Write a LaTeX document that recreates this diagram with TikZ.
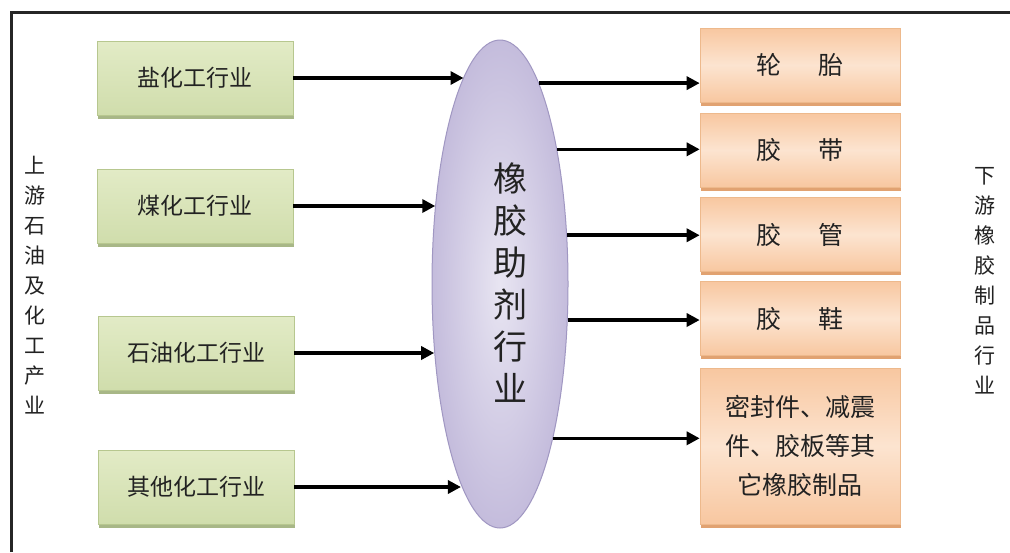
\documentclass[tikz,border=0pt]{standalone}
\usepackage{fontspec}
\newfontfamily\cjk{Noto Sans CJK SC}
\usetikzlibrary{arrows.meta,shapes.geometric,shadows}
\definecolor{gtop}{HTML}{E2EBC6}
\definecolor{gbot}{HTML}{D0DDAC}
\definecolor{gedge}{HTML}{B7C78F}
\definecolor{gshad}{HTML}{9FB07A}
\definecolor{otop}{HTML}{F8C7A0}
\definecolor{omid}{HTML}{FCE4D0}
\definecolor{oedge}{HTML}{EDB98C}
\definecolor{oshad}{HTML}{DE9862}
\definecolor{ein}{HTML}{E8E5F2}
\definecolor{eout}{HTML}{C4BCDC}
\definecolor{eedge}{HTML}{A097C2}
\definecolor{txt}{HTML}{222222}
\begin{document}
\begin{tikzpicture}[x=1pt,y=-1pt,
  gbox/.style={draw=gedge, line width=0.6pt, top color=gtop, bottom color=gbot,
    minimum width=196pt, minimum height=74pt, inner sep=0pt, text=txt,
    drop shadow={shadow xshift=1pt, shadow yshift=-3.5pt, fill=gshad, opacity=0.9},
    font=\cjk\fontsize{23}{28}\selectfont},
  obox/.style={draw=oedge, line width=0.6pt, top color=otop, bottom color=otop, middle color=omid,
    minimum width=200pt, inner sep=0pt, text=txt, align=center,
    drop shadow={shadow xshift=1pt, shadow yshift=-3.5pt, fill=oshad, opacity=0.9},
    font=\cjk\fontsize{25}{39}\selectfont},
  vlabel/.style={align=center, text=txt, font=\cjk\fontsize{21}{30}\selectfont},
  arr/.style={line width=3.5pt, -{Triangle[length=13pt,width=13pt]}}
]
\useasboundingbox (0,0) rectangle (1010,552);
\fill[white] (0,0) rectangle (1010,552);
% frame
\draw[line width=3pt, draw=black!85] (11,552) -- (11,12) -- (1010,12);

% upstream boxes
\node[gbox] (g1) at (195,78) {盐化工行业};
\node[gbox] (g2) at (195,206) {煤化工行业};
\node[gbox] (g3) at (196,353) {石油化工行业};
\node[gbox] (g4) at (196,487) {其他化工行业};

% central ellipse
\node[ellipse, draw=eedge, line width=1pt, inner color=ein, outer color=eout,
  minimum width=136pt, minimum height=488pt, inner sep=0pt] (ell) at (500,284) {};
\node[align=center, text=txt, font=\cjk\fontsize{34}{42}\selectfont] (etext) at (510,283)
  {橡\\胶\\助\\剂\\行\\业};

% downstream boxes
\node[obox, minimum height=74pt] (o1) at (800,65) {轮\hspace{1.5em}胎};
\node[obox, minimum height=74pt] (o2) at (800,150) {胶\hspace{1.5em}带};
\node[obox, minimum height=74pt] (o3) at (800,234.5) {胶\hspace{1.5em}管};
\node[obox, minimum height=74pt] (o4) at (800,318.5) {胶\hspace{1.5em}鞋};
\node[obox, minimum height=156pt] (o5) at (800,446) {密封件、减震\\件、胶板等其\\它橡胶制品};

% side labels
\node[vlabel] (up) at (35,285) {上\\游\\石\\油\\及\\化\\工\\产\\业};
\node[vlabel] (down) at (985,281) {下\\游\\橡\\胶\\制\\品\\行\\业};

% arrows into ellipse
\draw[arr] (g1.east) -- (g1.east -| ell.100);
\draw[arr] (g2.east) -- (g2.east -| ell.129.5);
\draw[arr] (g3.east) -- (g3.east -| ell.226.6);
\draw[arr] (g4.east) -- (g4.east -| ell.259.3);

% arrows out of ellipse
\draw[arr] (ell.79.6) -- (ell.79.6 -| o1.west);
\draw[arr] (ell.67.4) -- (ell.67.4 -| o2.west);
\draw[arr] (ell.36.3) -- (ell.36.3 -| o3.west);
\draw[arr] (ell.-28.1) -- (ell.-28.1 -| o4.west);
\draw[arr] (ell.-71.5) -- (ell.-71.5 -| o5.west);
\end{tikzpicture}
\end{document}
